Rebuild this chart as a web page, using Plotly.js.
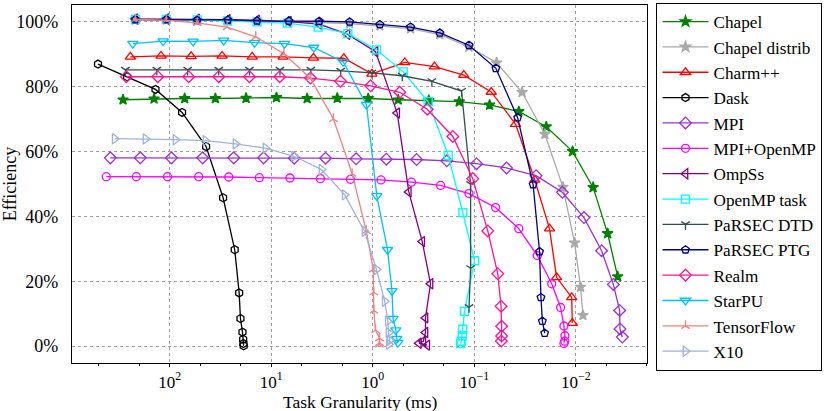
<!DOCTYPE html>
<html>
<head>
<meta charset="utf-8">
<script src="https://cdn.plot.ly/plotly-3.0.1.min.js"></script>
<style>
  html, body { margin: 0; padding: 0; background: #fff; }
  #graph { width: 830px; height: 411px; }
</style>
</head>
<body>
<div id="graph"></div>
<script>
// task granularity (ms) and efficiency (%) per system
const chapelX = [288, 142.5, 71.2, 35.5, 17.7, 8.89, 4.43, 2.24, 1.11, 0.562, 0.281, 0.141, 0.0708, 0.0365, 0.0196, 0.0108, 0.00677, 0.00487, 0.00388];
const chapelY = [75.9, 76.2, 76.3, 76.3, 76.4, 76.6, 76.3, 76.4, 76.3, 75.9, 75.7, 75.3, 74.3, 72.3, 67.6, 60.0, 48.9, 34.7, 21.4];

const chapelDistX = [218, 108, 53.7, 26.8, 13.8, 6.72, 3.37, 1.69, 0.853, 0.425, 0.219, 0.113, 0.0604, 0.0339, 0.0202, 0.01343, 0.0103, 0.0090, 0.00853];
const chapelDistY = [100.5, 100.5, 100.3, 100.3, 100.0, 99.9, 99.7, 99.4, 98.7, 97.8, 96.0, 92.2, 87.3, 78.2, 65.3, 49.0, 31.8, 18.2, 9.5];

const charmX = [244, 121.6, 61.5, 30.5, 15.4, 7.63, 3.84, 1.93, 1.02, 0.485, 0.247, 0.127, 0.0682, 0.0393, 0.0254, 0.0182, 0.0155, 0.0110, 0.01085];
const charmY = [89.1, 89.4, 89.3, 89.4, 89.1, 89.1, 88.8, 88.7, 83.9, 87.4, 86.1, 83.5, 78.3, 68.4, 51.2, 36.2, 21.2, 15.0, 7.1];

const daskX = [508, 263, 138, 75.5, 43.8, 29.8, 22.9, 20.7, 20.1, 19.2, 18.9, 18.8, 18.7];
const daskY = [86.9, 83.0, 79.1, 72.0, 61.5, 45.7, 29.7, 16.4, 8.5, 4.3, 2.1, 0.8, 0.1];

const mpiX = [384, 195, 96.2, 47.3, 23.4, 11.9, 5.94, 2.92, 1.46, 0.736, 0.371, 0.187, 0.0951, 0.0482, 0.0247, 0.0136, 0.00834, 0.00558, 0.00428, 0.00371, 0.00368, 0.00349];
const mpiY = [58.0, 58.0, 58.0, 58.0, 58.0, 58.0, 57.9, 57.9, 57.7, 57.6, 57.5, 57.1, 56.2, 54.9, 52.5, 47.4, 39.6, 29.4, 19.0, 11.0, 5.3, 2.8];

const mpiOmpX = [421, 213, 105, 51.8, 26.2, 13.1, 6.54, 3.28, 1.66, 0.830, 0.416, 0.215, 0.113, 0.0618, 0.0365, 0.0240, 0.0173, 0.01415, 0.01312, 0.01283, 0.0129, 0.01312];
const mpiOmpY = [52.2, 52.2, 52.2, 52.2, 52.1, 51.9, 51.8, 51.6, 51.4, 51.2, 50.5, 49.5, 47.0, 42.7, 36.2, 27.9, 19.2, 11.9, 6.2, 3.2, 1.5, 0.8];

const ompssX = [218, 108, 53.7, 26.8, 13.8, 6.72, 3.37, 1.775, 0.940, 0.575, 0.442, 0.326, 0.270, 0.303, 0.303, 0.318, 0.352, 0.291];
const ompssY = [100.8, 100.8, 100.7, 100.6, 100.4, 100.0, 99.2, 96.1, 90.7, 71.8, 47.5, 32.2, 19.2, 8.7, 4.2, 1.5, 0.9, 0.3];

const openmpX = [218, 108, 53.7, 26.8, 13.8, 6.92, 3.45, 1.76, 0.920, 0.501, 0.285, 0.181, 0.130, 0.0995, 0.125, 0.130, 0.1316, 0.1346, 0.1368];
const openmpY = [100.7, 100.7, 100.5, 100.2, 99.9, 99.5, 98.3, 96.3, 91.3, 84.5, 75.3, 58.8, 41.1, 26.3, 10.7, 5.2, 3.2, 1.5, 0.8];

const dtdX = [273, 134, 66.5, 32.9, 16.4, 8.21, 4.08, 2.07, 1.02, 0.513, 0.262, 0.1337, 0.1089, 0.1089, 0.1128];
const dtdY = [85.1, 85.1, 85.1, 85.1, 85.1, 85.1, 85.1, 84.8, 84.2, 83.3, 81.6, 78.6, 49.9, 24.0, 12.0];

const ptgX = [218, 108, 53.7, 26.8, 13.8, 6.72, 3.37, 1.69, 0.853, 0.425, 0.219, 0.113, 0.0614, 0.0375, 0.0264, 0.0228, 0.0221, 0.0214, 0.0203];
const ptgY = [100.6, 100.6, 100.4, 100.5, 100.2, 100.2, 100.1, 99.9, 99.1, 98.3, 96.5, 92.7, 85.6, 70.4, 49.8, 29.1, 15.0, 7.7, 4.0];

const realmX = [267, 131, 65, 32.9, 16.4, 8.25, 4.11, 2.08, 1.05, 0.543, 0.291, 0.163, 0.1037, 0.0738, 0.0588, 0.0546, 0.0539, 0.0539, 0.0543];
const realmY = [83.0, 83.0, 83.0, 83.0, 83.0, 83.0, 82.6, 81.6, 80.2, 78.2, 73.0, 64.6, 51.6, 35.5, 22.3, 12.3, 6.1, 3.1, 1.6];

const starpuX = [231, 116, 58.8, 29.4, 14.6, 7.41, 3.81, 1.96, 1.154, 0.913, 0.716, 0.647, 0.632, 0.593, 0.580, 0.565];
const starpuY = [93.2, 94.0, 93.9, 94.2, 93.5, 93.2, 92.0, 87.6, 74.4, 46.3, 29.7, 17.0, 8.5, 4.9, 2.3, 1.1];

const tfX = [218, 108, 53.7, 27.2, 14.2, 7.50, 4.14, 2.44, 1.596, 1.159, 0.991, 0.978, 0.978, 0.940, 0.859, 0.859, 0.859];
const tfY = [100.7, 100.4, 99.6, 98.3, 95.3, 90.1, 82.6, 70.0, 53.1, 35.5, 23.6, 16.6, 11.0, 4.9, 2.4, 1.0, 0.5];

const x10X = [348, 173, 87.8, 44.5, 22.5, 11.4, 5.95, 3.20, 1.89, 1.207, 0.920, 0.763, 0.711, 0.700, 0.681, 0.695];
const x10Y = [63.9, 63.8, 63.6, 63.3, 62.3, 61.0, 58.5, 54.4, 46.6, 35.4, 23.6, 13.8, 7.7, 4.1, 1.8, 0.6];

const xTickVals = [1000, 100, 10, 1, 0.1, 0.01];
const xTickText = ["10<sup>3</sup>", "10<sup>2</sup>", "10<sup>1</sup>", "10<sup>0</sup>", "10<sup>\u22121</sup>", "10<sup>\u22122</sup>"];
const yTickVals = [0, 20, 40, 60, 80, 100];
const yTickText = ["0%", "20%", "40%", "60%", "80%", "100%"];

const FONT = "Liberation Serif";

function series(name, x, y, color, symbol, size) {
    return {
        name: name,
        x: x,
        y: y,
        type: "scatter",
        mode: "lines+markers",
        line: { color: color, width: 1.3 },
        marker: {
            symbol: symbol,
            size: size,
            color: color,
            line: { color: color, width: 1.3 },
        },
    };
}

const traces = [
    series("Chapel", chapelX, chapelY, "green", "star", 8),
    series("Chapel distrib", chapelDistX, chapelDistY, "darkgray", "star", 8),
    series("Charm++", charmX, charmY, "red", "triangle-up-open", 9),
    series("Dask", daskX, daskY, "black", "hexagon-open", 8),
    series("MPI", mpiX, mpiY, "darkorchid", "diamond-open", 9),
    series("MPI+OpenMP", mpiOmpX, mpiOmpY, "magenta", "circle-open", 8),
    series("OmpSs", ompssX, ompssY, "purple", "triangle-left-open", 9),
    series("OpenMP task", openmpX, openmpY, "cyan", "square-open", 8),
    series("PaRSEC DTD", dtdX, dtdY, "darkslategray", "y-down", 7),
    series("PaRSEC PTG", ptgX, ptgY, "navy", "pentagon-open", 8),
    series("Realm", realmX, realmY, "deeppink", "diamond-open", 9),
    series("StarPU", starpuX, starpuY, "deepskyblue", "triangle-down-open", 9),
    series("TensorFlow", tfX, tfY, "lightcoral", "y-up", 7),
    series("X10", x10X, x10Y, "#9fb3d9", "triangle-right-open", 9),
];

const layout = {
    width: 830,
    height: 411,
    margin: { l: 72, r: 183, t: 3, b: 48 },
    paper_bgcolor: "white",
    plot_bgcolor: "white",
    font: { family: FONT, size: 18, color: "black" },
    showlegend: true,
    legend: {
        x: 1.0165,
        y: 1.006,
        xanchor: "left",
        yanchor: "top",
        bordercolor: "black",
        borderwidth: 1,
        bgcolor: "white",
        font: { family: FONT, size: 17.2, color: "black" },
        itemwidth: 46,
        maxheight: 410,
    },
    // x axis title placed as a paper annotation so it sits just under the tick labels
    annotations: [{
        text: "Task Granularity (ms)",
        xref: "paper",
        yref: "paper",
        x: 0.5,
        y: -0.108,
        xanchor: "center",
        yanchor: "middle",
        showarrow: false,
        font: { family: FONT, size: 17.5, color: "black" },
    }],
    xaxis: {
        type: "log",
        range: [2.962, -2.70],
        automargin: false,
        tickmode: "array",
        tickvals: xTickVals,
        ticktext: xTickText,
        ticks: "outside",
        ticklen: 3,
        tickcolor: "black",
        tickfont: { family: FONT, size: 17, color: "black" },
        minor: { ticks: "outside", ticklen: 2, tickcolor: "black", showgrid: false },
        showgrid: true,
        gridcolor: "#a0a0a0",
        griddash: "dot",
        gridwidth: 1,
        showline: true,
        linecolor: "black",
        linewidth: 1.2,
        mirror: true,
        zeroline: false,
    },
    yaxis: {
        range: [-5.2, 105.1],
        automargin: false,
        tickmode: "array",
        tickvals: yTickVals,
        ticktext: yTickText,
        ticks: "outside",
        ticklen: 9,
        tickcolor: "rgba(0,0,0,0)",
        tickfont: { family: FONT, size: 18, color: "black" },
        showgrid: true,
        gridcolor: "#a0a0a0",
        griddash: "dot",
        gridwidth: 1,
        showline: true,
        linecolor: "black",
        linewidth: 1.2,
        mirror: true,
        zeroline: false,
        title: { text: "Efficiency", font: { family: FONT, size: 18, color: "black" }, standoff: 4 },
    },
};

Plotly.newPlot("graph", traces, layout, { displayModeBar: false, staticPlot: true });
</script>
</body>
</html>
